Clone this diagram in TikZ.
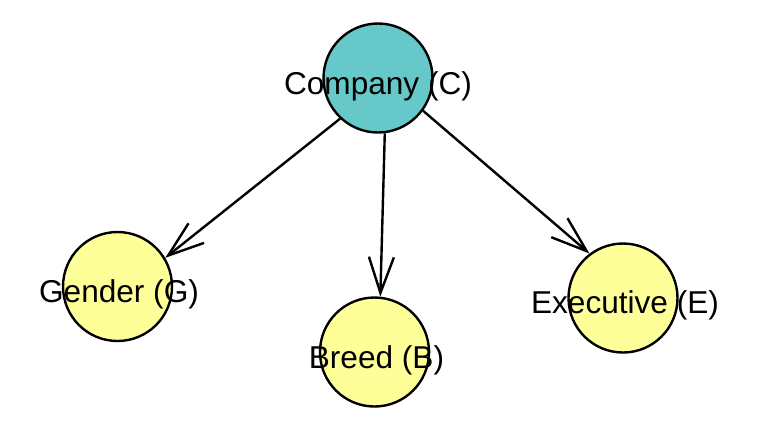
\documentclass[tikz,border=0pt]{standalone}
\usepackage{fontspec}
\setmainfont{Liberation Sans}
\usepackage{tikz}
\usetikzlibrary{arrows.meta, positioning}
\definecolor{teal}{RGB}{102,200,200}
\definecolor{paleyellow}{RGB}{255,255,153}

\begin{document}
\begin{tikzpicture}[x=0.5pt, y=-0.5pt, font=\fontsize{15.8}{18}\selectfont,
    varnode/.style={circle, draw=black, line width=1.2pt, minimum size=54.5pt, inner sep=0pt},
    varlabel/.style={anchor=base, inner sep=0pt},
    dep/.style={-{Straight Barb[length=18pt, width=12.5pt]}, line width=1.2pt}]
  \useasboundingbox (0,0) rectangle (770,447);
  % nodes ----------------------------------------------------------
  \node[varnode, fill=teal] (C) at (378,78) {};
  \node[varnode, fill=paleyellow] (G) at (117.5,286.5) {};
  \node[varnode, fill=paleyellow] (B) at (374.5,352) {};
  \node[varnode, fill=paleyellow] (E) at (623,298) {};
  % labels ---------------------------------------------------------
  \node[varlabel] (Ctext) at (378,94) {Company (C)};
  \node[varlabel] (Gtext) at (119,302) {Gender (G)};
  \node[varlabel] (Btext) at (376.5,368) {Breed (B)};
  \node[varlabel] (Etext) at (625,313) {Executive (E)};
  % edges ----------------------------------------------------------
  \draw[dep] (C.-133) -- (G.31);
  \draw[dep] (C.-83) -- (B.84);
  \draw[dep] (C.-36) -- (E.127);
\end{tikzpicture}
\end{document}
